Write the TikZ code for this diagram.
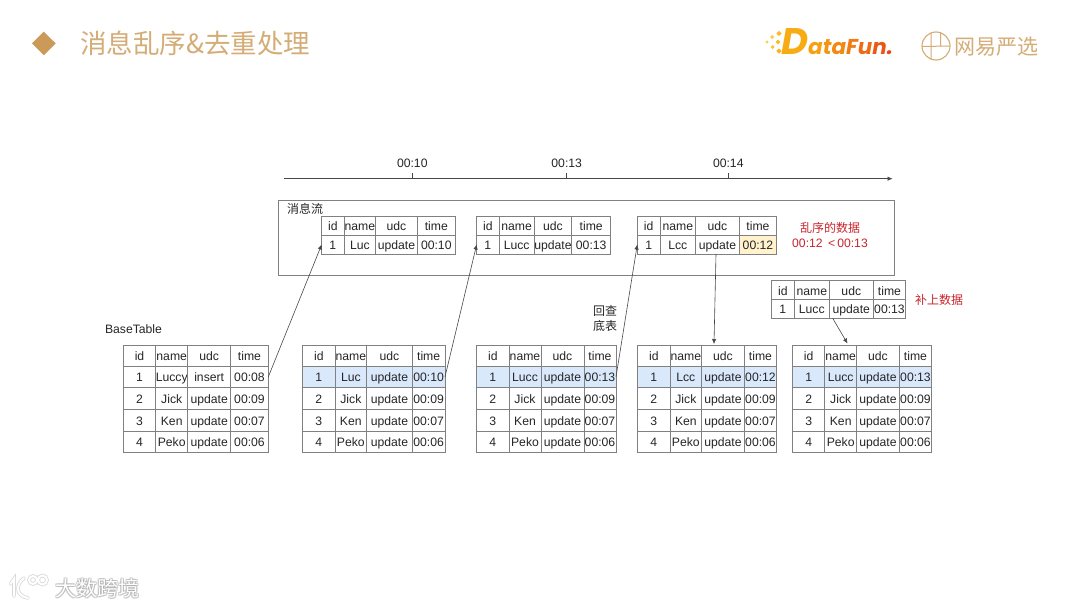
\documentclass[tikz,border=0pt]{standalone}
\usepackage{fontspec}
\usetikzlibrary{arrows.meta}
\setmainfont{Liberation Sans}
\newfontfamily\cjk{Noto Sans CJK SC}
\newfontfamily\logofont{Poppins}
\definecolor{gold}{HTML}{D4AC76}
\definecolor{golddark}{HTML}{CC9A58}
\definecolor{ln}{HTML}{808080}
\definecolor{ink}{HTML}{262626}
\definecolor{hl}{HTML}{DAE8FC}
\definecolor{warn}{HTML}{FFF2CC}
\definecolor{redt}{HTML}{C9252D}
\tikzset{
  cellbox/.style={draw=ln,line width=1pt,inner sep=0pt,outer sep=0pt,text=ink,font=\fontsize{12.2}{14}\selectfont,text height=12pt,text depth=2pt,align=center},
  lab/.style={inner sep=0pt,outer sep=0pt,text=ink,font=\fontsize{12.2}{14}\selectfont},
  cjklab/.style={inner sep=0pt,outer sep=0pt,text=ink,font=\cjk\fontsize{12}{15}\selectfont},
  redlab/.style={cjklab,text=redt},
  conn/.style={draw=ink!85,line width=.6pt,-{Latex[length=5pt,width=4.4pt]}},
  plain/.style={draw=ink!85,line width=.6pt},
}
\newcommand\cellat[7][]{\node[cellbox,#1,minimum width={(#4-#2)*1pt},minimum height={(#5-#3)*1pt}] (#6) at ({(#2+#4)/2},{(#3+#5)/2}) {\makebox[0pt]{#7}};}
\newcommand\setcols[5]{\def\xa{#1}\def\xb{#2}\def\xc{#3}\def\xd{#4}\def\xe{#5}}
\newcommand\trow[8][]{%
  \cellat[#1]{\xa}{#3}{\xb}{#4}{#2a}{#5}
  \cellat[#1]{\xb}{#3}{\xc}{#4}{#2b}{#6}
  \cellat[#1]{\xc}{#3}{\xd}{#4}{#2c}{#7}
  \cellat[#1]{\xd}{#3}{\xe}{#4}{#2d}{#8}}
\newcommand\headrow[3]{\trow{#1}{#2}{#3}{id}{name}{udc}{time}}
\newcommand\baserows[1]{%
  \trow{#1r2}{387.7}{409.3}{2}{Jick}{update}{00:09}
  \trow{#1r3}{409.3}{431}{3}{Ken}{update}{00:07}
  \trow{#1r4}{431}{452.7}{4}{Peko}{update}{00:06}}
\begin{document}
\begin{tikzpicture}[x=1pt,y=-1pt]
\useasboundingbox (0,0) rectangle (1080,608);
\fill[white] (0,0) rectangle (1080,608);
% title
\fill[golddark] (32,43.4) -- (43.8,31.7) -- (55.7,43.4) -- (43.8,55.2) -- cycle;
\node[anchor=west,inner sep=0pt,text=gold,font=\cjk\fontsize{26.5}{30}\selectfont] (title) at (80,43) {消息乱序\&去重处理};
% DataFun logo
\foreach \x/\y/\r/\c in {767/42/1.6/FBD04A,772/37/2/FBCB3E,772.5/47/2/FAC42F,778/42/2.4/F9BC22,779/33.5/2.6/F9BC22,779/51/2.6/F8B41A}
  {\definecolor{tmpc}{HTML}{\c}\fill[tmpc] (\x-\r,\y) -- (\x,\y-\r) -- (\x+\r,\y) -- (\x,\y+\r) -- cycle;}
\node[anchor=base west,inner sep=0pt,font=\logofont\bfseries\itshape\fontsize{37}{38}\selectfont] (dflogoD) at (781,54.5) {\textcolor[HTML]{F8AC14}{D}};
\node[anchor=base west,inner sep=0pt,font=\logofont\bfseries\itshape\fontsize{21.5}{24}\selectfont] (dflogo) at (808,54.5) {\textcolor[HTML]{F6A012}{a}\textcolor[HTML]{F59412}{t}\textcolor[HTML]{F38812}{a}\textcolor[HTML]{F17C14}{F}\textcolor[HTML]{EE6A14}{u}\textcolor[HTML]{EA5816}{n}\textcolor[HTML]{E5451A}{.}};
% Yanxuan logo
\draw[gold,line width=1.1pt] (936,46) circle (14);
\draw[gold,line width=1pt] (922,46.5) -- (950,46) (931,33) -- (931,59.5) (940.5,33) -- (940.5,46);
\node[anchor=west,inner sep=0pt,text=gold,font=\cjk\fontsize{21}{24}\selectfont] (yxlogo) at (954,46.5) {网易严选};
% time axis
\coordinate (axL) at (284,178.7);
\coordinate (axR) at (892.5,178.7);
\draw[conn] (axL) -- (axR);
\foreach \n/\x/\t in {a/412.3/00:10,b/566.7/00:13,c/728.3/00:14}{
  \coordinate (tick\n) at (\x,178.7);
  \draw[plain] (tick\n) -- ++(0,-5.5);
  \node[lab] (time\n) at (\x,163.5) {\t};
}
% message box
\node[draw=ln,line width=1pt,inner sep=0pt,minimum width=616pt,minimum height=74.6pt] (msgbox) at (586.3,238) {};
\node[cjklab,anchor=west] (msglab) at (287,209) {消息流};
% message tables
\setcols{321.7}{344}{375.7}{417.3}{455.3}
\headrow{ma}{216}{235}
\trow{mar}{235}{254}{1}{Luc}{update}{00:10}
\setcols{476.7}{499}{534.3}{571.7}{610.7}
\headrow{mb}{216}{235}
\trow{mbr}{235}{254}{1}{Lucc}{update}{00:13}
\setcols{637.3}{660}{695.7}{739.3}{776.7}
\headrow{mc}{216}{235}
\cellat{637.3}{235}{660}{254}{mcra}{1}
\cellat{660}{235}{695.7}{254}{mcrb}{Lcc}
\cellat{695.7}{235}{739.3}{254}{mcrc}{update}
\cellat[fill=warn]{739.3}{235}{776.7}{254}{mcrd}{00:12}
\node[redlab] (outa) at (830,228) {乱序的数据};
\node[lab,text=redt] (outb) at (830,243) {00:12 \,<\,00:13};
% patch table
\setcols{771.3}{794.3}{829.3}{873.3}{905.7}
\headrow{pt}{280.7}{299.3}
\trow{ptr}{299.3}{318.3}{1}{Lucc}{update}{00:13}
\node[redlab,anchor=west] (patchlab) at (915,299.5) {补上数据};
% base tables
\node[lab,anchor=west] (basetitle) at (105,329) {BaseTable};
\setcols{123.3}{155.7}{187.7}{230.7}{268.3}
\headrow{ta}{345}{366}
\trow{tar1}{366}{387.7}{1}{Luccy}{insert}{00:08}
\baserows{ta}
\setcols{302.7}{335}{366.7}{412.3}{445}
\headrow{tb}{345}{366}
\trow[fill=hl]{tbr1}{366}{387.7}{1}{Luc}{update}{00:10}
\baserows{tb}
\setcols{476.7}{509}{541}{584}{616}
\headrow{tc}{345}{366}
\trow[fill=hl]{tcr1}{366}{387.7}{1}{Lucc}{update}{00:13}
\baserows{tc}
\setcols{637.7}{670}{701.7}{744.3}{776.7}
\headrow{td}{345}{366}
\trow[fill=hl]{tdr1}{366}{387.7}{1}{Lcc}{update}{00:12}
\baserows{td}
\setcols{792.7}{824.7}{856.7}{899.3}{931.7}
\headrow{te}{345}{366}
\trow[fill=hl]{ter1}{366}{387.7}{1}{Lucc}{update}{00:13}
\baserows{te}
\node[cjklab] (huicha) at (605,310.5) {回查};
\node[cjklab] (dibiao) at (605,326) {底表};
% connectors
\draw[conn] (tar1d.east) -- (mara.west);
\draw[conn] (tbr1d.east) -- (mbra.west);
\draw[conn] (tcr1d.east) -- (mcra.west);
\coordinate (endd) at (714,344);
\draw[conn] (mcrc.south) ++(-1.5,0) coordinate (startd) -- (endd);
\coordinate (starte) at (832.7,318.3);
\coordinate (ende) at (847.5,343.5);
\draw[conn] (starte) -- (ende);
% watermark
\foreach \i/\dx/\dy in {1/-1/0,2/1/0,3/0/-1,4/0/1,5/-1/-1,6/1/1,7/1/-1,8/-1/1}
  \node[inner sep=0pt,text=black!35,opacity=.35,font=\cjk\fontsize{21}{24}\selectfont] (wms\i) at (97.5+\dx,588+\dy) {大数跨境};
\node[inner sep=0pt,text=white,font=\cjk\fontsize{21}{24}\selectfont] (wm) at (97.5,588) {大数跨境};
\foreach \w/\c/\o in {3.6/black!30/.5,2/white/1}{
  \draw[\c,opacity=\o,line width=\w pt,line cap=round] (10.5,584) -- (14,579) -- (14,596);
  \draw[\c,opacity=\o,line width=\w pt,line cap=round] (24,578) .. controls (15,585) and (16,596) .. (28,598);
  \draw[\c,opacity=\o,line width=\w pt] (33,580) circle (4) (42.5,580) circle (4.5);
}
\end{tikzpicture}
\end{document}
